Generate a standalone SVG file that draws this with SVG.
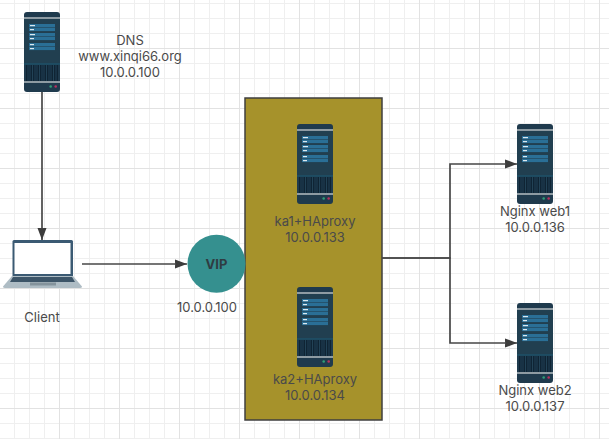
<svg xmlns="http://www.w3.org/2000/svg" width="609" height="439" viewBox="0 0 609 439">
<style>
text{font-family:Inter,"Noto Sans","Liberation Sans",sans-serif;font-size:13px;fill:#4a4a4a;text-anchor:middle}
.conn{fill:none;stroke:#474747;stroke-width:1.700}
.s-d{fill:#1f3a4d}
.s-m{fill:#8e9ba3}
.s-r{fill:#2a6f96}
.s-w{fill:#dce9f0}
</style>
<defs>
<pattern id="minor" width="15" height="15" patternUnits="userSpaceOnUse" x="0" y="3">
<path d="M14.500 0V15M0 0.500H15" fill="none" stroke="#efefef" stroke-width="1"/>
</pattern>
<pattern id="major" width="60" height="60" patternUnits="userSpaceOnUse" x="0" y="48">
<path d="M59.500 0V60M0 0.500H60" fill="none" stroke="#e2e2e2" stroke-width="1"/>
</pattern>
<marker id="arrow" markerUnits="userSpaceOnUse" markerWidth="13" markerHeight="10" refX="12.500" refY="5" orient="auto">
<path d="M0 0.300L12.500 5L0 9.700L0.800 5Z" fill="#3c3c3c"/>
</marker>
<symbol id="server" width="36" height="80" viewBox="0 0 36 80">
<rect width="36" height="80" rx="3" class="s-d"/>
<rect y="5" width="36" height="2" class="s-m"/>
<rect x="0" y="7" width="36" height="45" fill="#213f50"/>
<rect x="0" y="51.500" width="36" height="1" fill="#1d5a75"/>
<rect x="5" y="12" width="26" height="3.300" class="s-r"/><rect x="5" y="15.800" width="26" height="3.300" class="s-r"/>
<rect x="5" y="21" width="26" height="3.300" class="s-r"/><rect x="5" y="24.800" width="26" height="3.300" class="s-r"/>
<rect x="5" y="31" width="26" height="3.300" class="s-r"/><rect x="5" y="34.800" width="26" height="3.300" class="s-r"/>
<g class="s-w">
<rect x="6" y="13" width="5" height="1.200"/><rect x="6" y="17" width="4" height="1.200"/>
<rect x="6" y="22" width="5" height="1.200"/><rect x="6" y="26" width="4" height="1.200"/>
<rect x="6" y="32" width="4" height="1.200"/><rect x="6" y="36" width="4" height="1.200"/>
</g>
<rect x="2" y="53" width="32" height="16" fill="#0f2434"/>
<path d="M4 53V69M6 53V69M8.500 53V69M11 53V69M13 53V69M15.500 53V69M18 53V69M20 53V69M22.500 53V69M25 53V69M27 53V69M29.500 53V69M32 53V69" stroke="#274a60" stroke-width="0.800" fill="none"/>
<rect y="69" width="36" height="2" class="s-m"/>
<circle cx="26.700" cy="74.500" r="1.300" fill="#2f9e77"/>
<circle cx="31.700" cy="74.500" r="1.300" fill="#b8325f"/>
</symbol>
</defs>
<rect width="609" height="439" fill="#fff"/>
<rect width="609" height="439" fill="url(#minor)"/>
<rect width="609" height="439" fill="url(#major)"/>
<g id="ha-box"><rect x="245" y="98" width="137" height="322" fill="#a6922b" stroke="#3f3f3f" stroke-width="1.500"/></g>
<g id="connectors">
<path class="conn" d="M42 92V240" marker-end="url(#arrow)"/>
<path class="conn" d="M82 264H187" marker-end="url(#arrow)"/>
<path class="conn" d="M382 258H450V164H517" marker-end="url(#arrow)"/>
<path class="conn" d="M382 258H450V343H517" marker-end="url(#arrow)"/>
</g>
<g id="dns"><use href="#server" x="24" y="12"/><text x="130" y="45">DNS</text><text x="130" y="61">www.xinqi66.org</text><text x="130" y="77">10.0.0.100</text></g>
<g id="client">
<path d="M12.500 241.500a1.500 1.500 0 0 1 1.500-1.500h57.500a1.500 1.500 0 0 1 1.500 1.500V276H12.500Z" fill="#3b5a73"/>
<rect x="14.500" y="243" width="56" height="31" fill="#fff"/>
<path d="M12 276H73L82 286.500Q82 288 80 288H5Q3 288 3 286.500Z" fill="#aebcc4"/>
<path d="M13 277H72L75 282H10Z" fill="#3d5568"/>
<rect x="30" y="282.500" width="26" height="3" fill="#84939c"/>
<text x="42" y="322">Client</text>
</g>
<g id="vip"><circle cx="216.500" cy="263.800" r="29" fill="#35908f"/><text x="216.500" y="268.500" style="font-weight:700;font-size:13px;fill:#2f3c42">VIP</text><text x="207" y="312">10.0.0.100</text></g>
<g id="ka1"><use href="#server" x="297" y="124"/><text x="315" y="226">ka1+HAproxy</text><text x="315" y="242">10.0.0.133</text></g>
<g id="ka2"><use href="#server" x="297" y="287"/><text x="315" y="384">ka2+HAproxy</text><text x="315" y="400">10.0.0.134</text></g>
<g id="web1"><use href="#server" x="517" y="124"/><text x="535" y="216">Nginx web1</text><text x="535" y="232">10.0.0.136</text></g>
<g id="web2"><use href="#server" x="517" y="303"/><text x="535" y="395">Nginx web2</text><text x="535" y="411">10.0.0.137</text></g>
</svg>
